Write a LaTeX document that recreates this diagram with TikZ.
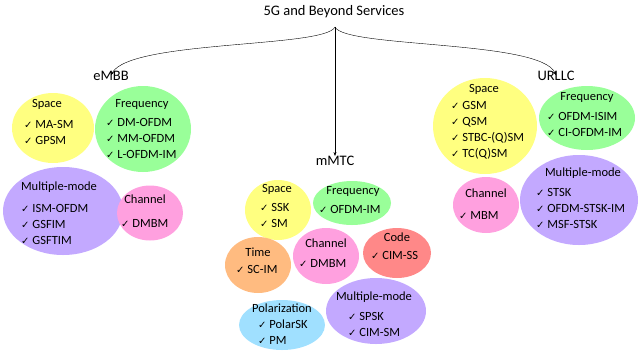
\documentclass[tikz,border=0pt]{standalone}
\usepackage{fontspec}
\setmainfont{Carlito}
\newfontfamily\tickfont{DejaVu Sans}
\usepackage{tikz}
\usetikzlibrary{arrows.meta, positioning, shapes.geometric}

\definecolor{spaceyel}{HTML}{FFFF80}
\definecolor{freqgrn}{HTML}{99FF99}
\definecolor{multipur}{HTML}{C3A9FF}
\definecolor{chanpnk}{HTML}{FFA0DF}
\definecolor{timeorg}{HTML}{FFBB80}
\definecolor{codered}{HTML}{FF8888}
\definecolor{polblu}{HTML}{A0E0FF}

\newcommand{\tick}{{\tickfont\fontsize{10}{10}\selectfont ✓}\ }

\tikzset{
    bubble/.style={ellipse, inner sep=0pt},
    head/.style={inner sep=0pt, font=\fontsize{12.5}{15}\selectfont},
    items/.style={anchor=west, align=left, inner sep=0pt, font=\fontsize{12.5}{16}\selectfont},
    service/.style={inner sep=0pt, font=\fontsize{14.5}{16}\selectfont}
}

\begin{document}
\begin{tikzpicture}[x=1pt, y=-1pt, >={Stealth[length=4pt, width=3pt]}]
\useasboundingbox (0,0) rectangle (640,360);

% Title and service classes
\node[service] (title) at (334,12) {5G and Beyond Services};
\node[service] (embb) at (111,76) {eMBB};
\node[service] (mmtc) at (335,161) {mMTC};
\node[service] (urllc) at (556,76) {URLLC};

\coordinate (root) at (335,27);
\draw[->] (root) .. controls (325,48) and (130,40) .. ([yshift=-4pt]embb.north);
\draw[->] (root) .. controls (345,48) and (540,40) .. ([yshift=-4pt]urllc.north);
\draw[->] (root) -- (mmtc.north);

% eMBB bubbles
\node[bubble, fill=spaceyel, minimum width=82pt, minimum height=70pt] (es) at (53,128) {};
\node[bubble, fill=freqgrn, minimum width=96pt, minimum height=86pt] (ef) at (143,129) {};
\node[bubble, fill=multipur, minimum width=120pt, minimum height=88pt] (em) at (63,211) {};
\node[bubble, fill=chanpnk, minimum width=66pt, minimum height=55pt] (ec) at (150,213) {};

\node[head] at (47,104) {Space};
\node[items] at (24,132.5) {\tick MA-SM\\ \tick GPSM};
\node[head] at (142,104) {Frequency};
\node[items] at (106,138.5) {\tick DM-OFDM\\ \tick MM-OFDM\\ \tick L-OFDM-IM};
\node[head] at (59,187) {Multiple-mode};
\node[items] at (21,224.5) {\tick ISM-OFDM\\ \tick GSFIM\\ \tick GSFTIM};
\node[head] at (145,199) {Channel};
\node[items] at (121,223) {\tick DMBM};

% mMTC bubbles
\node[bubble, fill=spaceyel, minimum width=66pt, minimum height=60pt] (ms) at (278,210) {};
\node[bubble, fill=freqgrn, minimum width=78pt, minimum height=44pt] (mf) at (352,203) {};
\node[bubble, fill=timeorg, minimum width=66pt, minimum height=56pt] (mt) at (258,265) {};
\node[bubble, fill=chanpnk, minimum width=66pt, minimum height=56pt] (mc) at (326,256) {};
\node[bubble, fill=codered, minimum width=68pt, minimum height=50pt] (md) at (397,253) {};
\node[bubble, fill=polblu, minimum width=86pt, minimum height=50pt] (mp) at (282,325) {};
\node[bubble, fill=multipur, minimum width=100pt, minimum height=66pt] (mm) at (376,311) {};

\node[head] at (277,189) {Space};
\node[items] at (260,215) {\tick SSK\\ \tick SM};
\node[head] at (353,191) {Frequency};
\node[items] at (319,209) {\tick OFDM-IM};
\node[head] at (258,252) {Time};
\node[items] at (236,269) {\tick SC-IM};
\node[head] at (326,243) {Channel};
\node[items] at (299,263) {\tick DMBM};
\node[head] at (397,237) {Code};
\node[items] at (371,255) {\tick CIM-SS};
\node[head] at (282,308) {Polarization};
\node[items] at (258,332.5) {\tick PolarSK\\ \tick PM};
\node[head] at (374,297) {Multiple-mode};
\node[items] at (348,324) {\tick SPSK\\ \tick CIM-SM};

% URLLC bubbles
\node[bubble, fill=spaceyel, minimum width=104pt, minimum height=96pt] (us) at (485,126) {};
\node[bubble, fill=freqgrn, minimum width=96pt, minimum height=64pt] (uf) at (587,118) {};
\node[bubble, fill=chanpnk, minimum width=66pt, minimum height=56pt] (uc) at (486,205) {};
\node[bubble, fill=multipur, minimum width=118pt, minimum height=90pt] (um) at (579,200) {};

\node[head] at (484,89) {Space};
\node[items] at (451,130.5) {\tick GSM\\ \tick QSM\\ \tick STBC-(Q)SM\\ \tick TC(Q)SM};
\node[head] at (587,97) {Frequency};
\node[items] at (547,124.5) {\tick OFDM-ISIM\\ \tick CI-OFDM-IM};
\node[head] at (486,193) {Channel};
\node[items] at (459,215) {\tick MBM};
\node[head] at (583,173) {Multiple-mode};
\node[items] at (536,208.5) {\tick STSK\\ \tick OFDM-STSK-IM\\ \tick MSF-STSK};
\end{tikzpicture}
\end{document}
